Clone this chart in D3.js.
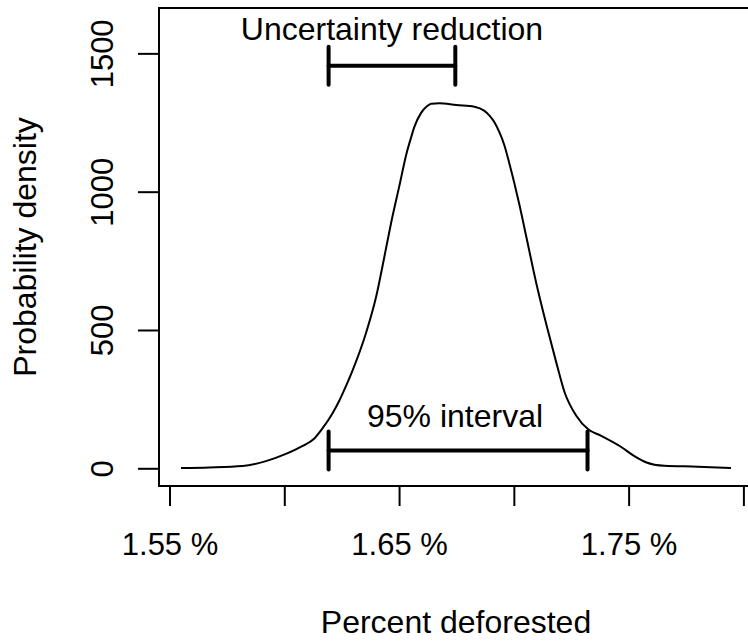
<!DOCTYPE html>
<html>
<head>
<meta charset="utf-8">
<script src="https://cdn.jsdelivr.net/npm/d3@7"></script>
<style>
  html, body { margin: 0; padding: 0; background: #fff; }
  svg { display: block; font-family: "Liberation Sans", Arial, sans-serif; }
</style>
</head>
<body>
<svg id="chart" width="748" height="641"></svg>
<script>
// ---- Data ----
const densityX = [1.5550, 1.5673, 1.5818, 1.5920, 1.6007, 1.6080, 1.6131, 1.6167, 1.6211, 1.6240,
  1.6269, 1.6298, 1.6356, 1.6400, 1.6436, 1.6465, 1.6501, 1.6533, 1.6552, 1.6567, 1.6596, 1.6620, 1.6640,
  1.6676, 1.6749, 1.6828, 1.6872, 1.6894, 1.6916, 1.6937, 1.6959, 1.6981, 1.7003, 1.7025, 1.7054,
  1.7097, 1.7141, 1.7185, 1.7221, 1.7272, 1.7325, 1.7379, 1.7466, 1.7525, 1.7575, 1.7656, 1.7801, 1.7946];
const densityY = [1, 3, 8, 26, 52, 81, 108, 145, 200, 245,
  298, 355, 489, 620, 765, 886, 1020, 1140, 1195, 1235, 1285, 1308, 1318,
  1320, 1313, 1307, 1292, 1275, 1250, 1215, 1167, 1100, 1028, 950, 838,
  672, 522, 382, 275, 190, 140, 118, 78, 44, 22, 9, 6, 1];

const xTickValues = [1.55, 1.60, 1.65, 1.70, 1.75, 1.80];
const xTickLabels = ["1.55 %", "", "1.65 %", "", "1.75 %", ""];
const yTickValues = [0, 500, 1000, 1500];
const yTickLabels = ["0", "500", "1000", "1500"];
const yLimits = [0, 1600];

const interval95 = [1.6193, 1.7321];
const interval95Y = 64;
const reductionInterval = [1.6193, 1.6745];
const reductionY = 1455;

const xTitle = "Percent deforested";
const yTitle = "Probability density";
const label95 = "95% interval";
const labelReduction = "Uncertainty reduction";

// ---- Layout ----
const svg = d3.select("#chart");
const plotLeft = 159, plotTop = 8, plotRight = 753, plotBottom = 486;
const tickFont = 31;
const labelFont = 32;
const fontFam = '"Liberation Sans", Arial, sans-serif';

const xMin = d3.min(densityX), xMax = d3.max(densityX);
const xPad = (xMax - xMin) * 0.04;
const yPad = (yLimits[1] - yLimits[0]) * 0.04;
const x = d3.scaleLinear().domain([xMin - xPad, xMax + xPad]).range([plotLeft, plotRight]);
const y = d3.scaleLinear().domain([yLimits[0] - yPad, yLimits[1] + yPad]).range([plotBottom, plotTop]);

// Box
svg.append("rect")
  .attr("x", plotLeft).attr("y", plotTop)
  .attr("width", plotRight - plotLeft).attr("height", plotBottom - plotTop)
  .attr("fill", "none").attr("stroke", "#000").attr("stroke-width", 2);

// X axis
const xAxis = svg.append("g")
  .attr("transform", `translate(0,${plotBottom})`)
  .call(d3.axisBottom(x).tickValues(xTickValues).tickSize(20)
    .tickFormat((d, i) => xTickLabels[i]));
xAxis.select(".domain").remove();
xAxis.selectAll(".tick line").attr("stroke", "#000").attr("stroke-width", 2);
xAxis.selectAll(".tick text")
  .attr("y", 555 - plotBottom).attr("dy", 0)
  .attr("fill", "#000")
  .style("font-size", tickFont + "px")
  .style("font-family", fontFam);

// Y axis
const yAxis = svg.append("g")
  .attr("transform", `translate(${plotLeft},0)`)
  .call(d3.axisLeft(y).tickValues(yTickValues).tickSize(21)
    .tickFormat((d, i) => yTickLabels[i]));
yAxis.select(".domain").remove();
yAxis.selectAll(".tick line").attr("stroke", "#000").attr("stroke-width", 2);
yAxis.selectAll(".tick text")
  .attr("x", null).attr("dy", 0)
  .attr("text-anchor", "middle")
  .attr("transform", "translate(-46,0) rotate(-90)")
  .attr("fill", "#000")
  .style("font-size", tickFont + "px")
  .style("font-family", fontFam);

// Axis titles
svg.append("text")
  .attr("x", 456).attr("y", 633)
  .attr("text-anchor", "middle")
  .style("font-size", labelFont + "px")
  .text(xTitle);
svg.append("text")
  .attr("transform", `translate(36,${(plotTop + plotBottom) / 2}) rotate(-90)`)
  .attr("text-anchor", "middle")
  .style("font-size", labelFont + "px")
  .text(yTitle);

// Density curve
const pts = densityX.map((d, i) => [d, densityY[i]]);
const line = d3.line().x(d => x(d[0])).y(d => y(d[1])).curve(d3.curveMonotoneX);
svg.append("path")
  .datum(pts)
  .attr("d", line)
  .attr("fill", "none")
  .attr("stroke", "#000")
  .attr("stroke-width", 2)
  .attr("stroke-linejoin", "round");

// Interval bars
function intervalBar(range, yv) {
  const g = svg.append("g")
    .attr("stroke", "#000").attr("stroke-width", 4)
    .attr("stroke-linecap", "round").attr("fill", "none");
  const yy = y(yv);
  g.append("line").attr("x1", x(range[0])).attr("x2", x(range[1])).attr("y1", yy).attr("y2", yy);
  range.forEach(v => {
    g.append("line").attr("x1", x(v)).attr("x2", x(v)).attr("y1", yy - 19).attr("y2", yy + 19);
  });
}
intervalBar(interval95, interval95Y);
intervalBar(reductionInterval, reductionY);

svg.append("text")
  .attr("x", x(d3.mean(interval95)) - 3).attr("y", 426.5)
  .attr("text-anchor", "middle")
  .style("font-size", labelFont + "px")
  .text(label95);
svg.append("text")
  .attr("x", x(d3.mean(reductionInterval))).attr("y", 39.5)
  .attr("text-anchor", "middle")
  .style("font-size", labelFont + "px")
  .text(labelReduction);
</script>
</body>
</html>
